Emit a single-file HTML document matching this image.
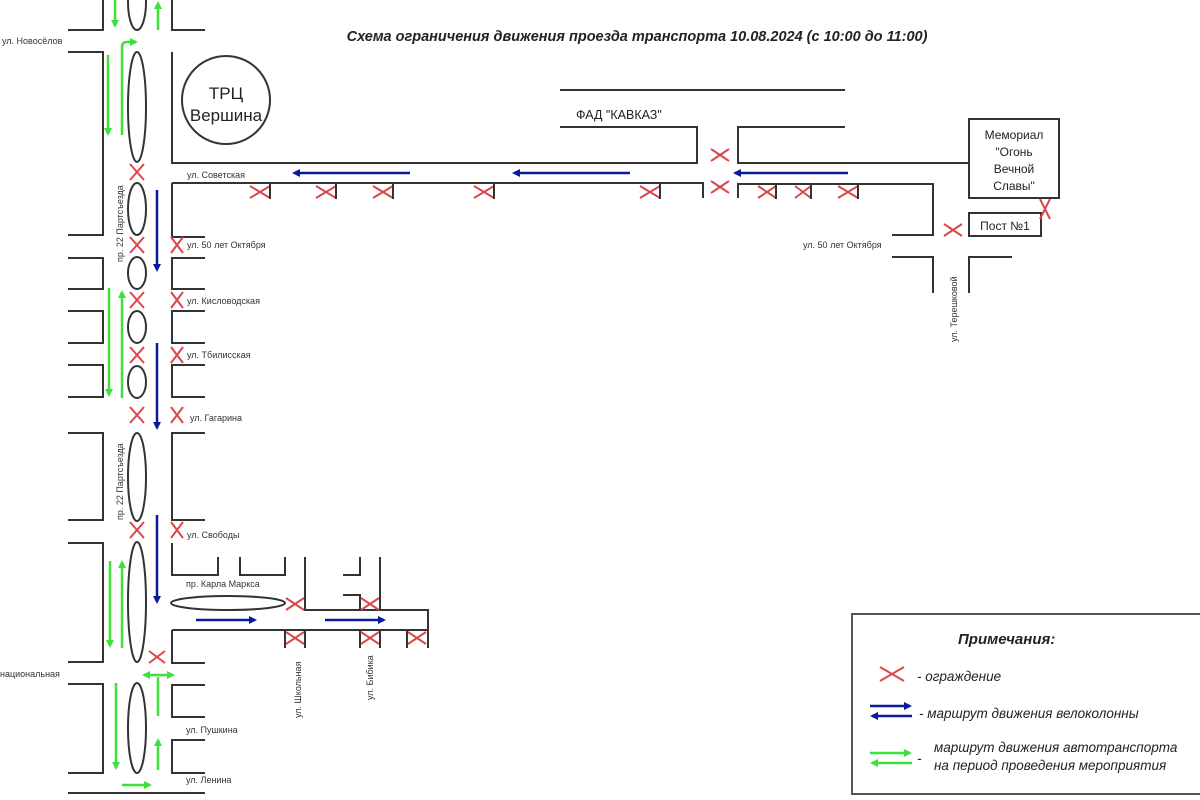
<!DOCTYPE html>
<html><head><meta charset="utf-8"><style>
html,body{margin:0;padding:0;background:#fff;}
svg{display:block;font-family:"Liberation Sans",sans-serif;}
.s{stroke:#333;stroke-width:2;fill:none;}
.x{stroke:#d9484a;stroke-width:2;fill:none;}
.b{stroke:#0a1a9a;stroke-width:2.5;fill:none;}
.g{stroke:#3ee03e;stroke-width:2.5;fill:none;}
.t{font-size:9px;fill:#333;}
</style></head><body>
<svg width="1200" height="800" viewBox="0 0 1200 800" xmlns="http://www.w3.org/2000/svg">
<defs>
<marker id="bh" markerWidth="8" markerHeight="8" refX="6" refY="4" orient="auto" markerUnits="userSpaceOnUse"><path d="M0,0 L8,4 L0,8 z" fill="#0a1a9a"/></marker>
<marker id="gh" markerWidth="8" markerHeight="8" refX="6" refY="4" orient="auto" markerUnits="userSpaceOnUse"><path d="M0,0 L8,4 L0,8 z" fill="#3ee03e"/></marker>
</defs>
<rect width="1200" height="800" fill="#fff"/>
<text x="637" y="41" text-anchor="middle" font-size="14.5" font-weight="bold" font-style="italic" fill="#222">Схема ограничения движения проезда транспорта 10.08.2024 (с 10:00 до 11:00)</text>

<path class="s" d="M103,0 V30 H68 M68,52 H103 V235 H68 M68,258 H103 V289 H68 M68,311 H103 V343 H68 M68,365 H103 V397 H68 M68,433 H103 V520 H68 M68,543 H103 V662 H68 M68,684 H103 V773 H68 M68,793 H205"/>
<path class="s" d="M172,0 V30 H205 M845,90 H560 M560,127 H697 V163 H172 V52 M172,183 V237 H205 M205,258 H172 V289 H205 M205,311 H172 V343 H205 M205,365 H172 V397 H205 M205,433 H172 V520 H205 M172,543 V575 H218 V557 M240,557 V575 H285 V557 M305,557 V610 H428 V648 M172,630 V663 H205 M205,685 H172 V717 H205 M205,740 H172 V773 H205"/>
<path class="s" d="M343,575 H360 V557 M343,595 H360 V610 M380,557 V610"/>
<path class="s" d="M172,630 H428 M285,630 V648 M305,630 V648 M360,630 V648 M380,630 V648 M407,630 V648"/>
<path class="s" d="M845,127 H738 V163 H969 M172,183 H703 V198 M738,198 V184 H933 V235 H892 M892,257 H933 V293 M969,293 V257 H1012"/>
<rect class="s" x="969" y="119" width="90" height="79"/>
<rect class="s" x="969" y="213" width="72" height="23"/>
<text x="1014" y="139" text-anchor="middle" font-size="12" fill="#222">Мемориал</text>
<text x="1014" y="156" text-anchor="middle" font-size="12" fill="#222">"Огонь</text>
<text x="1014" y="173" text-anchor="middle" font-size="12" fill="#222">Вечной</text>
<text x="1014" y="190" text-anchor="middle" font-size="12" fill="#222">Славы"</text>
<text x="1005" y="230" text-anchor="middle" font-size="12" fill="#222">Пост №1</text>
<circle class="s" cx="226" cy="100" r="44"/>
<text x="226" y="99" text-anchor="middle" font-size="17" fill="#222">ТРЦ</text>
<text x="226" y="121" text-anchor="middle" font-size="17" fill="#222">Вершина</text>
<text x="576" y="119" font-size="12.5" fill="#222">ФАД "КАВКАЗ"</text>

<g class="s" stroke-width="1.5">
<ellipse cx="137" cy="2" rx="9" ry="28"/>
<ellipse cx="137" cy="107" rx="9" ry="55"/>
<ellipse cx="137" cy="209" rx="9" ry="26"/>
<ellipse cx="137" cy="273" rx="9" ry="16"/>
<ellipse cx="137" cy="327" rx="9" ry="16"/>
<ellipse cx="137" cy="382" rx="9" ry="16"/>
<ellipse cx="137" cy="477" rx="9" ry="44"/>
<ellipse cx="137" cy="602" rx="9" ry="60"/>
<ellipse cx="137" cy="728" rx="9" ry="45"/>
<ellipse cx="228" cy="603" rx="57" ry="7"/>
</g>

<g class="t">
<text x="2" y="44">ул. Новосёлов</text>
<text x="187" y="178">ул. Советская</text>
<text x="187" y="248">ул. 50 лет Октября</text>
<text x="187" y="304">ул. Кисловодская</text>
<text x="187" y="358">ул. Тбилисская</text>
<text x="190" y="421">ул. Гагарина</text>
<text x="187" y="538">ул. Свободы</text>
<text x="186" y="587">пр. Карла Маркса</text>
<text x="0" y="677">национальная</text>
<text x="186" y="733">ул. Пушкина</text>
<text x="186" y="783">ул. Ленина</text>
<text x="803" y="248">ул. 50 лет Октября</text>
<text transform="translate(123,262) rotate(-90)">пр. 22 Партсъезда</text>
<text transform="translate(123,520) rotate(-90)">пр. 22 Партсъезда</text>
<text transform="translate(301,718) rotate(-90)">ул. Школьная</text>
<text transform="translate(373,700) rotate(-90)">ул. Бибика</text>
<text transform="translate(957,342) rotate(-90)">ул. Терешковой</text>
</g>

<g class="x">
<path d="M130,164 l14,16 m0,-16 l-14,16"/>
<path d="M130,237 l14,16 m0,-16 l-14,16"/>
<path d="M130,292 l14,16 m0,-16 l-14,16"/>
<path d="M130,347 l14,16 m0,-16 l-14,16"/>
<path d="M130,407 l14,16 m0,-16 l-14,16"/>
<path d="M130,522 l14,16 m0,-16 l-14,16"/>
<path d="M149,651 l16,12 m0,-12 l-16,12"/>
<path d="M171,237 l12,16 m0,-16 l-12,16"/>
<path d="M171,292 l12,16 m0,-16 l-12,16"/>
<path d="M171,347 l12,16 m0,-16 l-12,16"/>
<path d="M171,407 l12,16 m0,-16 l-12,16"/>
<path d="M171,522 l12,16 m0,-16 l-12,16"/>
<path d="M711,149 l18,12 m0,-12 l-18,12"/>
<path d="M711,181 l18,12 m0,-12 l-18,12"/>
<path d="M944,224 l18,12 m0,-12 l-18,12"/>
<path d="M1040,199 l10,20 m0,-20 l-10,20"/>
<path d="M286,598 l18,12 m0,-12 l-18,12"/>
<path d="M361,598 l18,12 m0,-12 l-18,12"/>
<path d="M286,632 l18,12 m0,-12 l-18,12"/>
<path d="M361,632 l18,12 m0,-12 l-18,12"/>
<path d="M408,632 l18,12 m0,-12 l-18,12"/>
<path d="M250,186 l20,12 m0,-12 l-20,12"/>
<path d="M316,186 l20,12 m0,-12 l-20,12"/>
<path d="M373,186 l20,12 m0,-12 l-20,12"/>
<path d="M474,186 l20,12 m0,-12 l-20,12"/>
<path d="M640,186 l20,12 m0,-12 l-20,12"/>
<path d="M758,186 l18,12 m0,-12 l-18,12"/>
<path d="M795,186 l16,12 m0,-12 l-16,12"/>
<path d="M838,186 l20,12 m0,-12 l-20,12"/>
</g>
<path class="s" d="M270,184 V199 M336,184 V199 M393,184 V199 M494,184 V199 M660,184 V199 M776,184 V199 M811,184 V199 M858,184 V199"/>

<g class="b">
<path d="M410,173 H294" marker-end="url(#bh)"/>
<path d="M630,173 H514" marker-end="url(#bh)"/>
<path d="M848,173 H735" marker-end="url(#bh)"/>
<path d="M157,190 V270" marker-end="url(#bh)"/>
<path d="M157,343 V428" marker-end="url(#bh)"/>
<path d="M157,515 V602" marker-end="url(#bh)"/>
<path d="M196,620 H255" marker-end="url(#bh)"/>
<path d="M325,620 H384" marker-end="url(#bh)"/>
</g>
<g class="g">
<path d="M115,0 V26" marker-end="url(#gh)"/>
<path d="M158,30 V3" marker-end="url(#gh)"/>
<path d="M122,135 V47 Q122,42 127,42 H136" marker-end="url(#gh)"/>
<path d="M108,55 V134" marker-end="url(#gh)"/>
<path d="M122,398 V292" marker-end="url(#gh)"/>
<path d="M109,288 V395" marker-end="url(#gh)"/>
<path d="M122,648 V562" marker-end="url(#gh)"/>
<path d="M110,561 V646" marker-end="url(#gh)"/>
<path d="M116,683 V768" marker-end="url(#gh)"/>
<path d="M158,716 V677" />
<path d="M158,675 H173" marker-end="url(#gh)"/>
<path d="M158,675 H144" marker-end="url(#gh)"/>
<path d="M158,770 V740" marker-end="url(#gh)"/>
<path d="M122,785 H150" marker-end="url(#gh)"/>
</g>

<rect x="852" y="614" width="360" height="180" fill="none" stroke="#555" stroke-width="2"/>
<text x="958" y="644" font-size="15" font-weight="bold" font-style="italic" fill="#222">Примечания:</text>
<path class="x" d="M880,667 l24,14 m0,-14 l-24,14"/>
<text x="917" y="681" font-size="13.5" font-style="italic" fill="#222">- ограждение</text>
<path class="b" d="M870,706 H910" marker-end="url(#bh)"/>
<path class="b" d="M912,716 H872" marker-end="url(#bh)"/>
<text x="919" y="718" font-size="13.5" font-style="italic" fill="#222">-  маршрут движения велоколонны</text>
<path class="g" d="M870,753 H910" marker-end="url(#gh)"/>
<path class="g" d="M912,763 H872" marker-end="url(#gh)"/>
<text x="917" y="763" font-size="13.5" font-style="italic" fill="#222">-</text>
<text x="934" y="752" font-size="13.5" font-style="italic" fill="#222">маршрут движения автотранспорта</text>
<text x="934" y="770" font-size="13.5" font-style="italic" fill="#222">на период проведения мероприятия</text>
</svg>
</body></html>
